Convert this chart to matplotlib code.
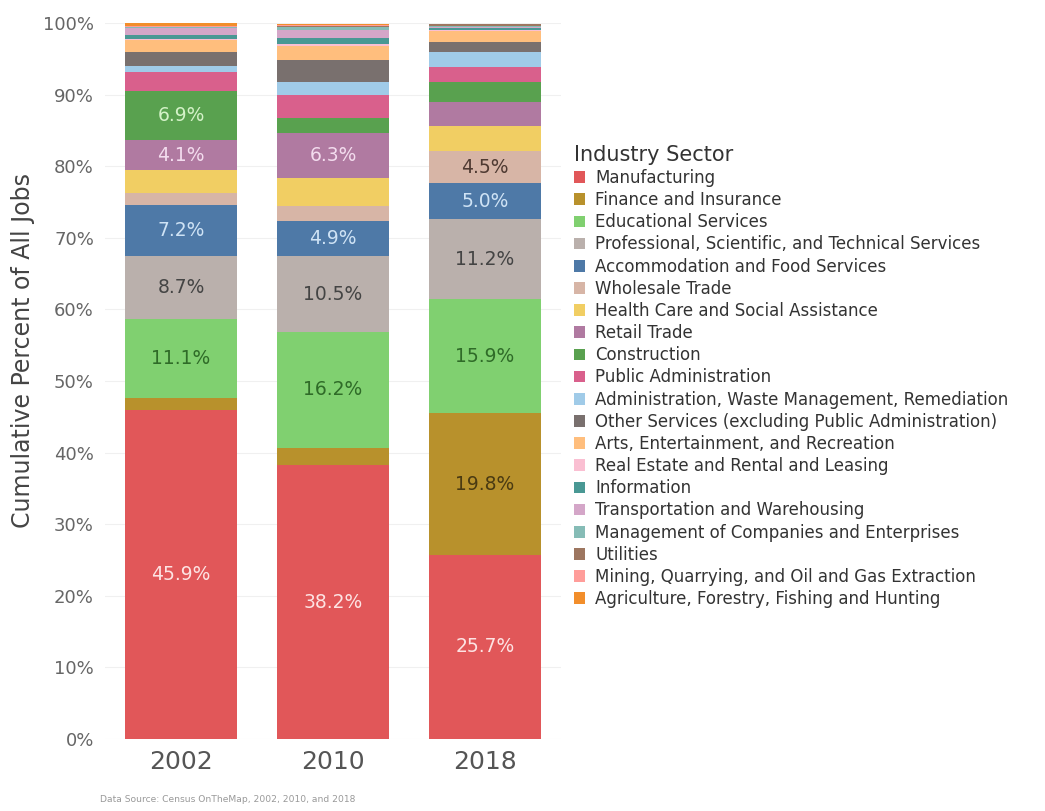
import matplotlib
matplotlib.use("Agg")
import matplotlib.pyplot as plt
from matplotlib.patches import Patch
import numpy as np

years = ["2002", "2010", "2018"]

sectors = [
    "Manufacturing",
    "Finance and Insurance",
    "Educational Services",
    "Professional, Scientific, and Technical Services",
    "Accommodation and Food Services",
    "Wholesale Trade",
    "Health Care and Social Assistance",
    "Retail Trade",
    "Construction",
    "Public Administration",
    "Administration, Waste Management, Remediation",
    "Other Services (excluding Public Administration)",
    "Arts, Entertainment, and Recreation",
    "Real Estate and Rental and Leasing",
    "Information",
    "Transportation and Warehousing",
    "Management of Companies and Enterprises",
    "Utilities",
    "Mining, Quarrying, and Oil and Gas Extraction",
    "Agriculture, Forestry, Fishing and Hunting",
]

manufacturing = [45.9, 38.2, 25.7]
finance = [1.7, 2.5, 19.8]
educational = [11.1, 16.2, 15.9]
professional = [8.7, 10.5, 11.2]
accommodation = [7.2, 4.9, 5.0]
wholesale = [1.7, 2.2, 4.5]
health = [3.2, 3.9, 3.5]
retail = [4.1, 6.3, 3.3]
construction = [6.9, 2.1, 2.9]
public_admin = [2.6, 3.1, 2.1]
admin_waste = [0.9, 1.8, 2.1]
other_services = [2.0, 3.1, 1.4]
arts = [1.6, 2.0, 1.5]
real_estate = [0.2, 0.2, 0.1]
information = [0.5, 0.9, 0.3]
transportation = [1.0, 1.1, 0.1]
management = [0.1, 0.4, 0.2]
utilities = [0.1, 0.2, 0.2]
mining = [0.1, 0.1, 0.0]
agriculture = [0.4, 0.1, 0.1]

values = [manufacturing, finance, educational, professional, accommodation,
          wholesale, health, retail, construction, public_admin, admin_waste,
          other_services, arts, real_estate, information, transportation,
          management, utilities, mining, agriculture]

colors = ["#e15759", "#b8912c", "#80d070", "#bab0ac", "#4e79a7",
          "#d7b5a6", "#f1ce63", "#b07aa1", "#59a14f", "#d9608c",
          "#a0cbe8", "#79706e", "#ffbe7d", "#fabfd2", "#499894",
          "#d4a6c8", "#86bcb6", "#9d7660", "#ff9d9a", "#f28e2b"]

label_colors = {0: "#fde3e3", 1: "#4a3a12", 2: "#2f6b28", 3: "#444444",
                4: "#cfe3f5", 5: "#4f3a32", 7: "#f3dcee", 8: "#d4f2c8"}

plt.rcParams['font.family'] = ['DejaVu Sans']

fig = plt.figure(figsize=(10.45, 8.11), dpi=100)
ax = fig.add_axes([105/1045, 1-739/811, 456/1045, 716/811])

x = np.arange(len(years))
bottom = np.zeros(len(years))
for i, (vals, col) in enumerate(zip(values, colors)):
    v = np.array(vals)
    ax.bar(x, v, bottom=bottom, width=0.74, color=col, linewidth=0, zorder=2)
    for j in range(len(years)):
        if v[j] >= 4.0:
            ax.text(x[j], bottom[j] + v[j]/2, f"{v[j]:.1f}%", ha="center",
                    va="center", fontsize=13.5, color=label_colors.get(i, "white"),
                    zorder=3)
    bottom += v

ax.set_xlim(-0.5, 2.5)
ax.set_ylim(0, 100)
ax.set_yticks(np.arange(0, 101, 10))
ax.set_yticklabels([f"{t}%" for t in range(0, 101, 10)], fontsize=13, color="#666666")
ax.set_xticks(x)
ax.set_xticklabels(years, fontsize=18, color="#555555")
ax.tick_params(axis="both", length=0)
ax.tick_params(axis="y", pad=8)
ax.tick_params(axis="x", pad=8)
for s in ax.spines.values():
    s.set_visible(False)
ax.grid(axis="y", color="#f0f0f0", linewidth=0.8, zorder=0)
fig.text(23/1045, 1-350/811, "Cumulative Percent of All Jobs", fontsize=17,
         color="#444444", rotation=90, ha="center", va="center")

handles = [Patch(facecolor=c, edgecolor="none") for c in colors]
leg = fig.legend(handles, sectors, loc="upper left",
                 bbox_to_anchor=(567/1045, 1-138/811), frameon=False,
                 title="Industry Sector", title_fontsize=15, fontsize=12,
                 handlelength=0.7, handleheight=0.7, handletextpad=0.6,
                 labelspacing=0.25, borderaxespad=0)
leg._legend_box.align = "left"
for t in leg.get_texts():
    t.set_color("#333333")
leg.get_title().set_color("#333333")

fig.text(100/1045, 1-800/811, "Data Source: Census OnTheMap, 2002, 2010, and 2018",
         fontsize=6.6, color="#999999", va="center")

fig.savefig("out.png", dpi=100, facecolor="white")
